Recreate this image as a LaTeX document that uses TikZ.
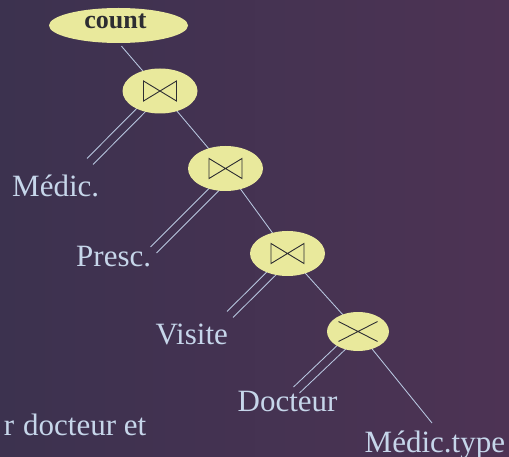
\documentclass[tikz,border=0pt]{standalone}
\usepackage{fontspec}
\setmainfont{Liberation Serif}
\usetikzlibrary{shapes.geometric}

\definecolor{bgleft}{RGB}{60,50,79}
\definecolor{bgright}{RGB}{77,51,84}
\definecolor{opfill}{RGB}{233,233,156}
\definecolor{ink}{RGB}{198,214,234}
\definecolor{wirecol}{RGB}{185,200,225}
\definecolor{glyph}{RGB}{45,45,50}

\pgfdeclarelayer{back}
\pgfdeclarelayer{wires}
\pgfsetlayers{back,wires,main}

\tikzset{
  opnode/.style={ellipse, fill=opfill, draw=none, inner sep=0pt,
    minimum width=75pt, minimum height=45pt},
  joinsym/.style={path picture={
    \draw[glyph, line width=0.9pt, line join=miter]
      ([shift={(-16.5pt,10pt)}]path picture bounding box.center)
      -- ++(0pt,-20pt) -- ++(33pt,20pt) -- ++(0pt,-20pt) -- cycle;}},
  crosssym/.style={path picture={
    \draw[glyph, line width=0.9pt]
      ([shift={(-19.5pt,10pt)}]path picture bounding box.center) -- ++(39pt,-20pt)
      ([shift={(-19.5pt,-10pt)}]path picture bounding box.center) -- ++(39pt,20pt);}},
  lbl/.style={text=ink, inner sep=0pt, font=\fontsize{31}{36}\selectfont},
  countlbl/.style={text=glyph, inner sep=0pt, font=\bfseries\fontsize{26}{30}\selectfont},
  wire/.style={draw=wirecol, line width=0.85pt},
}

% two parallel wires, one on each side of the path
\newcommand\pairwire[2]{%
  \draw[wire, transform canvas={shift={(-3pt,3pt)}}] #1 -- #2;
  \draw[wire, transform canvas={shift={(3pt,-3pt)}}] #1 -- #2;}

\begin{document}
\begin{tikzpicture}[x=1pt,y=-1pt]
  \useasboundingbox (0,0) rectangle (509,457);
  \begin{pgfonlayer}{back}
    \shade[left color=bgleft, right color=bgright] (0,0) rectangle (509,457);
  \end{pgfonlayer}

  % operators
  \node[opnode, minimum width=139pt, minimum height=35pt] (count) at (118.5,25.5) {};
  \node[countlbl, anchor=base] (counttxt) at (115.5,29) {count};
  \node[opnode, joinsym] (j1) at (160,91) {};
  \node[opnode, joinsym] (j2) at (225.5,168.5) {};
  \node[opnode, joinsym] (j3) at (287.5,253.5) {};
  \node[opnode, crosssym, minimum width=62pt, minimum height=39pt] (cross) at (358,331.5) {};

  % relations
  \node[lbl, anchor=base west] (medic) at (12,197) {Médic.};
  \node[lbl, anchor=base west] (presc) at (76,267) {Presc.};
  \node[lbl, anchor=base west] (visite) at (155.5,344) {Visite};
  \node[lbl, anchor=base west] (docteur) at (237.5,411) {Docteur};
  \node[lbl, anchor=base west] (medictype) at (364.5,452) {Médic.type};
  \node[lbl, anchor=base east] (note) at (146.5,435) {r\hspace{9pt}docteur et};

  % wire ends next to the relation names
  \coordinate (medicEnd) at (90,161.5);
  \coordinate (prescEnd) at (153.5,250);
  \coordinate (visiteEnd) at (230,314.5);
  \coordinate (docteurEnd) at (296.5,390);
  \coordinate (typeEnd) at (432,423);

  \begin{pgfonlayer}{wires}
    \draw[wire] ([shift={(3,3)}]count.south) -- (j1.center);
    \draw[wire] (j1.center) -- (j2.center);
    \draw[wire] (j2.center) -- (j3.center);
    \draw[wire] (j3.center) -- (cross.center);
    \draw[wire] (cross.center) -- (typeEnd);
    \pairwire{(j1.center)}{(medicEnd)}
    \pairwire{([shift={(4.7,4.7)}]j2.center)}{(prescEnd)}
    \pairwire{([shift={(2,2)}]j3.center)}{(visiteEnd)}
    \pairwire{(cross.center)}{(docteurEnd)}
  \end{pgfonlayer}
\end{tikzpicture}
\end{document}
